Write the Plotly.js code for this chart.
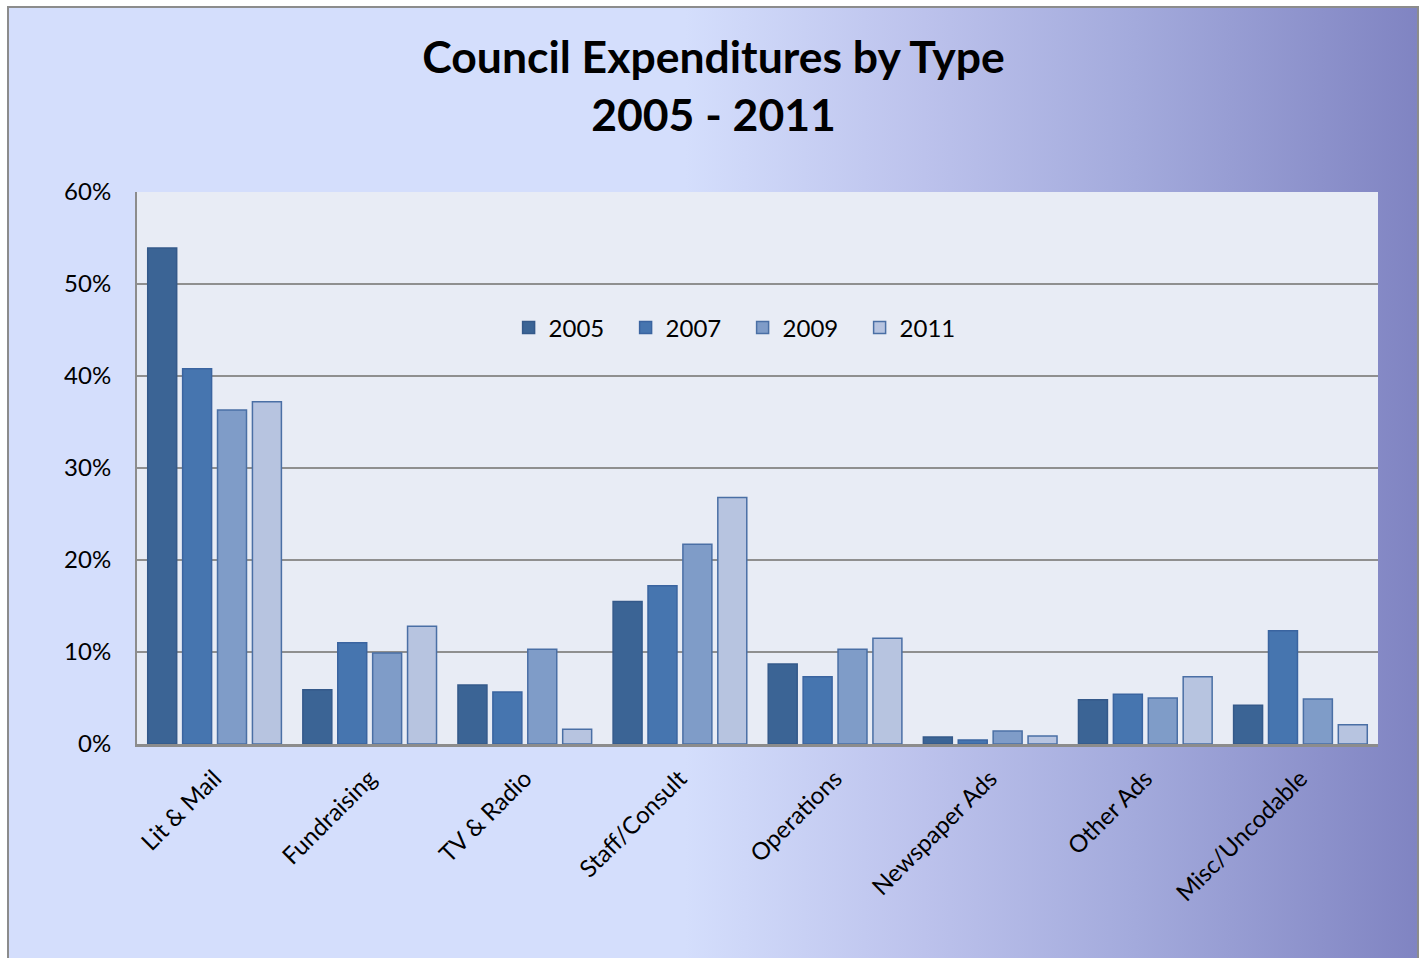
<!DOCTYPE html>
<html><head><meta charset="utf-8">
<script src="https://cdn.plot.ly/plotly-3.0.1.min.js"></script>
<style>
html,body{margin:0;padding:0;width:1427px;height:958px;overflow:hidden;background:#fff;}
#bg{position:absolute;left:7px;top:6px;width:1412px;height:960px;box-sizing:border-box;border:2px solid #8c8c8c;
background:linear-gradient(to right,#d4defc 0%,#d4defc 48%,#bcc2ec 65%,#a3aadc 80%,#8084c2 100%);}
#chart{position:absolute;left:0;top:0;width:1427px;height:958px;}
</style></head>
<body><div id="bg"></div><div id="chart"></div>
<script>
const categories = ["Lit & Mail","Fundraising","TV & Radio","Staff/Consult","Operations","Newspaper Ads","Other Ads","Misc/Uncodable"];
const years = ["2005","2007","2009","2011"];
const v2005 = [53.9, 5.9, 6.4, 15.5, 8.7, 0.76, 4.8, 4.2];
const v2007 = [40.8, 11.0, 5.65, 17.2, 7.3, 0.43, 5.4, 12.3];
const v2009 = [36.3, 9.9, 10.3, 21.7, 10.3, 1.4, 5.0, 4.9];
const v2011 = [37.2, 12.8, 1.6, 26.8, 11.5, 0.87, 7.3, 2.1];
const series = [v2005, v2007, v2009, v2011];
const fills = ["#3b6495","#4675af","#7f9cc8","#b7c4e0"];
const lines = ["#34598a","#3a64a0","#4a6fa5","#4a6fa5"];
const font = "Lato, 'Open Sans', sans-serif";
const traces = series.map((vals,i)=>({
  type:"bar", name:years[i], x:categories, y:vals,
  marker:{color:fills[i], line:{color:lines[i], width:1.5}},
  hoverinfo:"skip"
}));
const layout = {
  width:1427, height:958,
  paper_bgcolor:"rgba(0,0,0,0)", plot_bgcolor:"#e8ecf5",
  margin:{l:137, r:49, t:192, b:214, pad:0},
  barmode:"group", bargap:0.1, bargroupgap:0.17,
  font:{family:font, size:24, color:"#000"},
  title:{text:"<b>Council Expenditures by Type<br>2005 - 2011</b>", font:{family:font, size:44.5, color:"#000"},
         x:0.5, xref:"container", xanchor:"center", y:0.924, yref:"container", yanchor:"top"},
  xaxis:{tickangle:-45, showline:true, linecolor:"#8c8c8c", linewidth:3, ticks:"", showgrid:false,
         tickfont:{family:font, size:24}, ticklabelstandoff:8},
  yaxis:{range:[0,60], tickvals:[0,10,20,30,40,50,60], ticktext:["0%","10%","20%","30%","40%","50%","60%"],
         showgrid:true, gridcolor:"#8f8f8f", gridwidth:2, showline:true, linecolor:"#8c8c8c", linewidth:2,
         zeroline:false, ticks:"", ticklen:0, tickfont:{family:font, size:24}, automargin:false, ticklabelstandoff:19},
  legend:{orientation:"h", x:0.488, xanchor:"center", y:0.754, yanchor:"middle",
          bgcolor:"rgba(0,0,0,0)", font:{family:font, size:24}, entrywidth:72, entrywidthmode:"pixels"},
  showlegend:true
};
Plotly.newPlot("chart", traces, layout, {displayModeBar:false, staticPlot:true});
</script></body></html>
